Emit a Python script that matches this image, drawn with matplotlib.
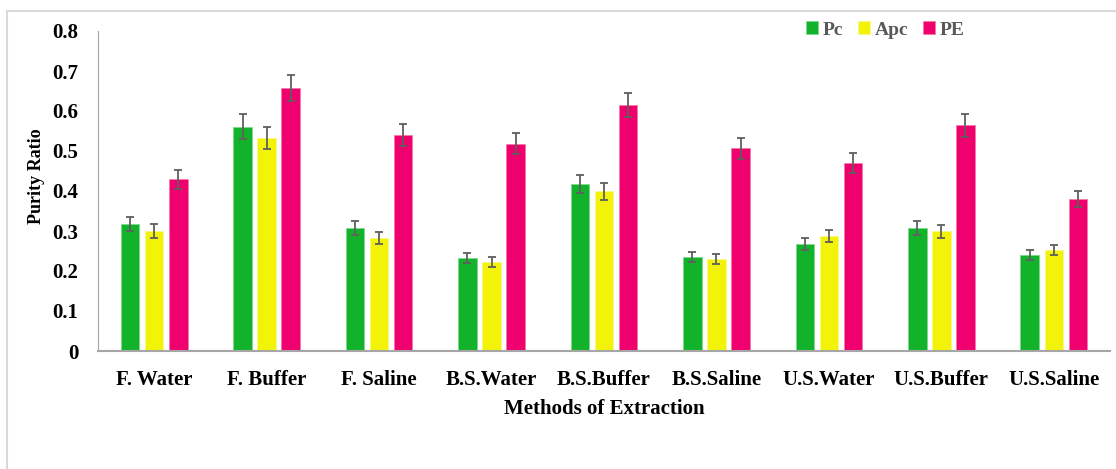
import numpy as np
import matplotlib
matplotlib.use("Agg")
import matplotlib.pyplot as plt
from matplotlib.patches import Rectangle

categories = ["F. Water", "F. Buffer", "F. Saline", "B.S.Water", "B.S.Buffer",
              "B.S.Saline", "U.S.Water", "U.S.Buffer", "U.S.Saline"]
pc = [0.318, 0.561, 0.307, 0.233, 0.417, 0.235, 0.267, 0.307, 0.240]
apc = [0.300, 0.532, 0.283, 0.223, 0.399, 0.230, 0.287, 0.299, 0.252]
pe = [0.429, 0.658, 0.540, 0.518, 0.615, 0.507, 0.471, 0.564, 0.380]
pc_err = [0.017, 0.031, 0.017, 0.013, 0.022, 0.012, 0.015, 0.017, 0.013]
apc_err = [0.017, 0.028, 0.015, 0.012, 0.021, 0.012, 0.015, 0.017, 0.012]
pe_err = [0.023, 0.033, 0.027, 0.026, 0.030, 0.026, 0.025, 0.029, 0.019]
yticks = [0, 0.1, 0.2, 0.3, 0.4, 0.5, 0.6, 0.7, 0.8]
ytick_labels = ["0", "0.1", "0.2", "0.3", "0.4", "0.5", "0.6", "0.7", "0.8"]

plt.rcParams['font.family'] = ['Liberation Serif', 'DejaVu Serif']
plt.rcParams['font.weight'] = 'bold'

fig = plt.figure(figsize=(11.16, 4.69), dpi=100)
ax = fig.add_axes([98/1116, 1 - 351/469, (1110 - 98)/1116, 320/469])

# light frame around the chart (cut off on right and bottom like the source)
fig.patches.append(Rectangle((7/1116, -0.1), 1.2, 1 - 11/469 + 0.1,
                             transform=fig.transFigure, fill=False,
                             edgecolor='#d9d9d9', linewidth=1.5))

x = np.arange(len(categories))
w = 0.165
step = 0.214
err_kw = dict(ecolor='#5f5f5f', elinewidth=1.3, capsize=3, capthick=1.3)
ax.bar(x - step, pc, w, yerr=pc_err, color='#12b32b', edgecolor='#7fd98c',
       linewidth=0.6, label='Pc', error_kw=err_kw)
ax.bar(x, apc, w, yerr=apc_err, color='#f3f30a', edgecolor='#f8f88a',
       linewidth=0.6, label='Apc', error_kw=err_kw)
ax.bar(x + step, pe, w, yerr=pe_err, color='#f0006e', edgecolor='#f57aa8',
       linewidth=0.6, label='PE', error_kw=err_kw)

ax.set_xlim(-0.5, len(categories) - 0.5)
ax.set_ylim(0, 0.8)
ax.set_yticks(yticks)
ax.set_yticklabels(ytick_labels, fontsize=15, fontweight='bold')
ax.set_xticks(x)
ax.set_xticklabels(categories, fontsize=15, fontweight='bold')
ax.tick_params(axis='both', length=0)
ax.tick_params(axis='y', pad=14)
ax.tick_params(axis='x', pad=14)

for s in ['top', 'right']:
    ax.spines[s].set_visible(False)
ax.spines['left'].set_color('#a6a6a6')
ax.spines['bottom'].set_color('#a6a6a6')
ax.spines['bottom'].set_linewidth(1.5)

ax.set_ylabel('Purity Ratio', fontsize=13, fontweight='bold')
ax.yaxis.set_label_coords(-0.052, 0.547)
ax.set_xlabel('Methods of Extraction', fontsize=15, fontweight='bold', labelpad=6)

leg = ax.legend(ncol=3, loc='center', bbox_to_anchor=(885/1116, 1 - 30/469),
                bbox_transform=fig.transFigure, frameon=False,
                handlelength=0.62, handleheight=0.62, handletextpad=0.25,
                columnspacing=0.75, prop={'size': 14, 'weight': 'bold'})
for t in leg.get_texts():
    t.set_color('#595959')

fig.savefig('out.png', dpi=100)
